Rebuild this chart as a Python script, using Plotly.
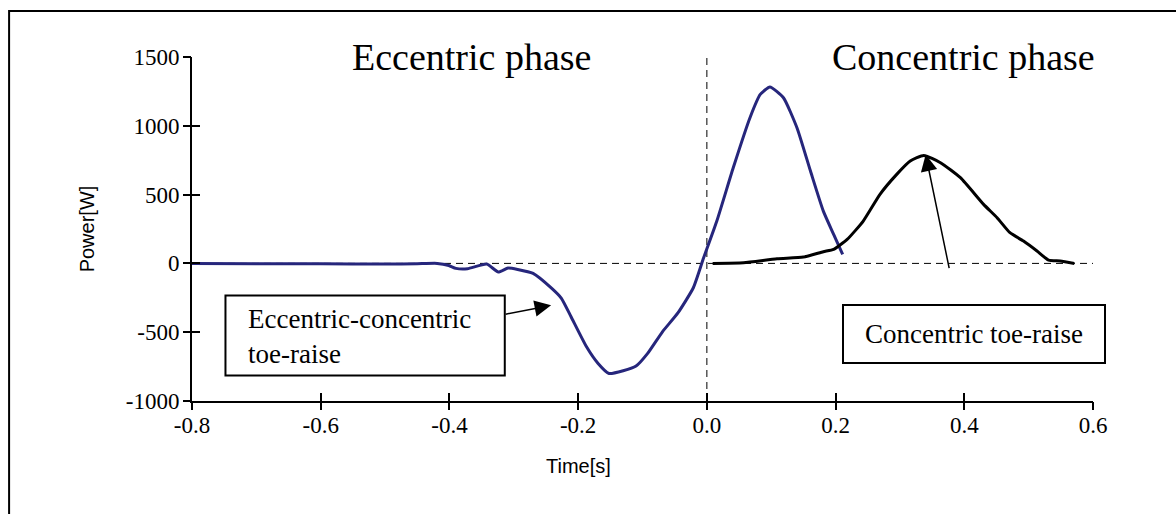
import plotly.graph_objects as go

# Eccentric-concentric toe-raise (blue)
ecc_t = [-0.80, -0.70, -0.60, -0.50, -0.45, -0.419, -0.401, -0.390, -0.372, -0.342, -0.324, -0.309,
         -0.294, -0.270, -0.241, -0.226, -0.211, -0.187, -0.169, -0.152, -0.130, -0.110, -0.092,
         -0.069, -0.045, -0.021, -0.005, 0.0155, 0.041, 0.067, 0.083, 0.098, 0.119, 0.140,
         0.161, 0.181, 0.197, 0.211]
ecc_p = [0, -3, -2, -5, -2, 0, -15, -36, -39, -5, -63, -34,
         -44, -73, -182, -254, -388, -606, -727, -800, -780, -746, -654,
         -497, -360, -177, 41, 308, 695, 1059, 1228, 1282, 1204, 986,
         671, 380, 211, 65]

# Concentric toe-raise (black)
con_t = [0.009, 0.057, 0.109, 0.150, 0.181, 0.197, 0.218, 0.243, 0.269, 0.295, 0.316, 0.337,
         0.363, 0.394, 0.430, 0.451, 0.471, 0.492, 0.513, 0.531, 0.549, 0.571]
con_p = [0, 5, 34, 46, 85, 102, 174, 308, 502, 647, 744, 785,
         732, 623, 429, 332, 223, 162, 90, 24, 17, 0]

x_ticks = [-0.8, -0.6, -0.4, -0.2, 0.0, 0.2, 0.4, 0.6]
x_ticklabels = ["-0.8", "-0.6", "-0.4", "-0.2", "0.0", "0.2", "0.4", "0.6"]
y_ticks = [-1000, -500, 0, 500, 1000, 1500]
y_ticklabels = ["-1000", "-500", "0", "500", "1000", "1500"]

serif = "Times New Roman, Liberation Serif, serif"
sans = "Arial, Liberation Sans, sans-serif"

fig = go.Figure()

# reference dashed lines
fig.add_trace(go.Scatter(x=[-0.8, 0.6], y=[0, 0], mode="lines",
                         line=dict(color="black", width=1, dash="7px,5px"),
                         hoverinfo="skip", showlegend=False))
fig.add_trace(go.Scatter(x=[0, 0], y=[-1000, 1500], mode="lines",
                         line=dict(color="black", width=1, dash="7px,5px"),
                         hoverinfo="skip", showlegend=False))

fig.add_trace(go.Scatter(x=ecc_t, y=ecc_p, mode="lines", name="Eccentric-concentric toe-raise",
                         line=dict(color="#26267c", width=3, shape="spline", smoothing=0.5),
                         showlegend=False))
fig.add_trace(go.Scatter(x=con_t, y=con_p, mode="lines", name="Concentric toe-raise",
                         line=dict(color="black", width=3, shape="spline", smoothing=0.5),
                         showlegend=False))

label_axis = dict(showgrid=False, zeroline=False, showline=True, linecolor="black",
                  linewidth=2, ticks="", tickfont=dict(family=serif, size=23, color="black"))


def tick_axis(ticks, vals, rng, overlay, anchor, side):
    return dict(range=rng, tickvals=vals, showticklabels=False, overlaying=overlay,
                showgrid=False, zeroline=False, showline=False, ticks=ticks, ticklen=8,
                tickwidth=2, tickcolor="black", anchor=anchor, side=side)


fig.update_layout(
    width=1176, height=514,
    margin=dict(l=192, r=83, t=57, b=113),
    paper_bgcolor="white", plot_bgcolor="white",
    xaxis=dict(range=[-0.8, 0.6], tickvals=x_ticks, ticktext=x_ticklabels,
               ticklabelstandoff=2, **label_axis),
    yaxis=dict(range=[-1000, 1500], tickvals=y_ticks, ticktext=y_ticklabels,
               ticklabelstandoff=6,
               title=dict(text="Power[W]", font=dict(family=sans, size=20, color="black"), standoff=26),
               **label_axis),
    # overlay axes drawing the crossing ticks (inside + outside)
    xaxis2=tick_axis("inside", x_ticks, [-0.8, 0.6], "x", "y", "bottom"),
    xaxis3=tick_axis("outside", x_ticks, [-0.8, 0.6], "x", "y", "bottom"),
    yaxis2=tick_axis("inside", y_ticks, [-1000, 1500], "y", "x", "left"),
    yaxis3=tick_axis("outside", y_ticks, [-1000, 1500], "y", "x", "left"),
    showlegend=False,
)

# dummy traces to activate overlay axes
fig.add_trace(go.Scatter(x=[None], y=[None], xaxis="x2", yaxis="y2", showlegend=False, hoverinfo="skip"))
fig.add_trace(go.Scatter(x=[None], y=[None], xaxis="x3", yaxis="y3", showlegend=False, hoverinfo="skip"))

# x axis title (placed under -0.2 like the reference)
fig.add_annotation(x=-0.2, y=-0.189, xref="x", yref="paper", text="Time[s]", showarrow=False,
                   font=dict(family=sans, size=20, color="black"), yanchor="middle")

# outer frame
fig.add_shape(type="rect", xref="paper", yref="paper", x0=-0.203, x1=1.3, y0=-0.6, y1=1.134,
              line=dict(color="black", width=2), fillcolor="rgba(0,0,0,0)", layer="below")

# phase titles
fig.add_annotation(x=-0.366, y=1500, xref="x", yref="y", text="Eccentric phase", showarrow=False,
                   font=dict(family=serif, size=38, color="black"), yanchor="middle")
fig.add_annotation(x=0.399, y=1500, xref="x", yref="y", text="Concentric phase", showarrow=False,
                   font=dict(family=serif, size=38, color="black"), yanchor="middle")

# label boxes
fig.add_shape(type="rect", xref="x", yref="y", x0=-0.748, x1=-0.314, y0=-814, y1=-233,
              line=dict(color="black", width=2), fillcolor="white", layer="above")
fig.add_annotation(x=-0.716, y=-530, xref="x", yref="y",
                   text="Eccentric-concentric<br>toe-raise", showarrow=False, align="left",
                   xanchor="left", yanchor="middle",
                   font=dict(family=serif, size=27, color="black"))
fig.add_annotation(x=0.4154, y=-513, xref="x", yref="y",
                   text="Concentric toe-raise", showarrow=False, align="center",
                   font=dict(family=serif, size=27, color="black"),
                   width=256, height=52, bordercolor="black", borderwidth=2, borderpad=2,
                   bgcolor="white")

# arrows
fig.add_annotation(x=-0.242, y=-305, ax=-0.315, ay=-371, xref="x", yref="y", axref="x", ayref="y",
                   text="", showarrow=True, arrowhead=2, arrowsize=2.2, arrowwidth=1.5, arrowcolor="black")
fig.add_annotation(x=0.340, y=791, ax=0.377, ay=-45, xref="x", yref="y", axref="x", ayref="y",
                   text="", showarrow=True, arrowhead=2, arrowsize=2.2, arrowwidth=1.5, arrowcolor="black")

fig.write_html("out.html")
